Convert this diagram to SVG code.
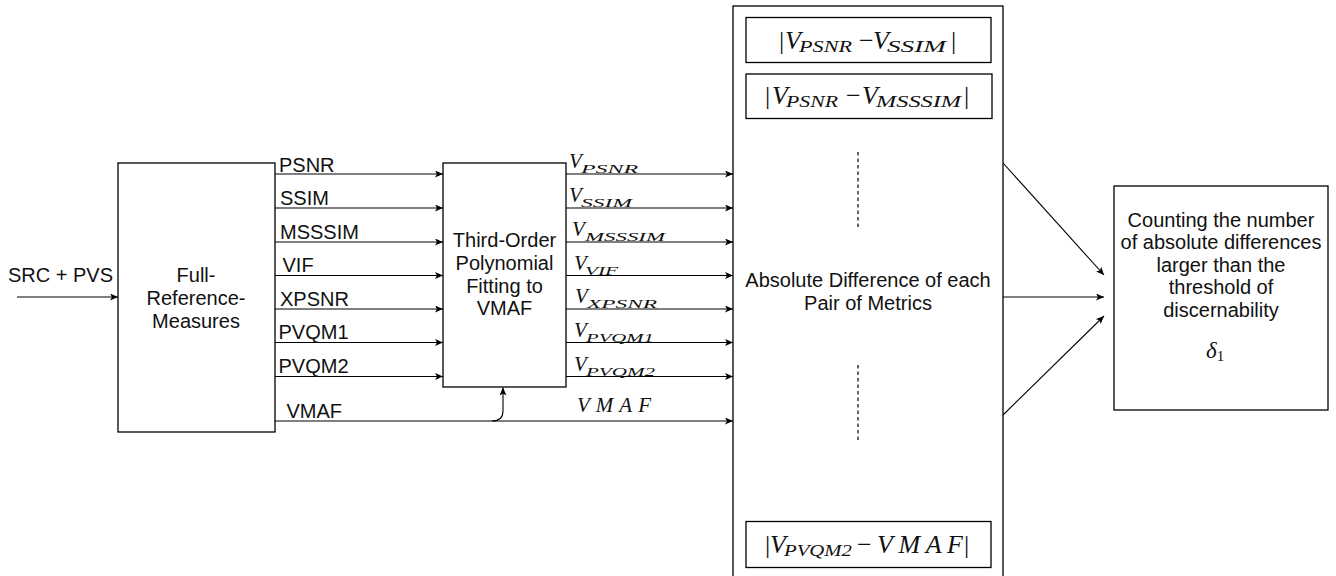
<svg xmlns="http://www.w3.org/2000/svg" width="1336" height="576" viewBox="0 0 1336 576">
<style>
.box{fill:#fff;stroke:#000;stroke-width:1.3}
.ln{fill:none;stroke:#000;stroke-width:1.1}
.dash{fill:none;stroke:#000;stroke-width:1.2;stroke-dasharray:3.5 3}
.t{font-family:"Liberation Sans",Arial,Helvetica,sans-serif;font-size:20px;fill:#111}
.c{text-anchor:middle}
.m{font-family:"Liberation Serif","Times New Roman",serif;font-style:italic;font-size:21px;fill:#111}
.s{font-size:13.5px}
.M{font-family:"Liberation Serif","Times New Roman",serif;font-style:italic;font-size:26px;fill:#111}
.S{font-size:17px}
.u{font-style:normal}
</style>
<defs>
<marker id="ah" viewBox="0 0 8 7" refX="8" refY="3.5" markerWidth="8" markerHeight="7" markerUnits="userSpaceOnUse" orient="auto">
<path d="M0,0 L8,3.5 L0,7 L2,3.5 z" fill="#000"/>
</marker>
</defs>

<g id="connectors">
<path class="ln" d="M17,297 H118" marker-end="url(#ah)"/>
<path class="ln" d="M275,174 H443" marker-end="url(#ah)"/>
<path class="ln" d="M275,208 H443" marker-end="url(#ah)"/>
<path class="ln" d="M275,242 H443" marker-end="url(#ah)"/>
<path class="ln" d="M275,275.5 H443" marker-end="url(#ah)"/>
<path class="ln" d="M275,309 H443" marker-end="url(#ah)"/>
<path class="ln" d="M275,342.5 H443" marker-end="url(#ah)"/>
<path class="ln" d="M275,376.5 H443" marker-end="url(#ah)"/>
<path class="ln" d="M275,421 H733" marker-end="url(#ah)"/>
<path class="ln" d="M492,421 Q503,421 503,411 V387.5" marker-end="url(#ah)"/>
<path class="ln" d="M566,174 H733" marker-end="url(#ah)"/>
<path class="ln" d="M566,208 H733" marker-end="url(#ah)"/>
<path class="ln" d="M566,242 H733" marker-end="url(#ah)"/>
<path class="ln" d="M566,275.5 H733" marker-end="url(#ah)"/>
<path class="ln" d="M566,309 H733" marker-end="url(#ah)"/>
<path class="ln" d="M566,342.5 H733" marker-end="url(#ah)"/>
<path class="ln" d="M566,376.5 H733" marker-end="url(#ah)"/>
<path class="ln" d="M1003,163 L1104,275" marker-end="url(#ah)"/>
<path class="ln" d="M1003,297 H1104" marker-end="url(#ah)"/>
<path class="ln" d="M1003,415 L1104,316" marker-end="url(#ah)"/>
</g>

<g id="labels">
<text class="t" x="8" y="282">SRC + PVS</text>
<text class="t" x="279" y="171.5">PSNR</text>
<text class="t" x="280" y="205">SSIM</text>
<text class="t" x="280" y="238.5">MSSSIM</text>
<text class="t" x="282.5" y="272">VIF</text>
<text class="t" x="280" y="305.5">XPSNR</text>
<text class="t" x="278.5" y="339">PVQM1</text>
<text class="t" x="278.5" y="372.5">PVQM2</text>
<text class="t" x="286.5" y="417.5">VMAF</text>

<text class="m" x="569" y="168">V<tspan class="s" x="581" y="173" textLength="57" lengthAdjust="spacingAndGlyphs">PSNR</tspan></text>
<text class="m" x="569" y="202">V<tspan class="s" x="581" y="207" textLength="51" lengthAdjust="spacingAndGlyphs">SSIM</tspan></text>
<text class="m" x="572" y="236">V<tspan class="s" x="585" y="241" textLength="80" lengthAdjust="spacingAndGlyphs">MSSSIM</tspan></text>
<text class="m" x="574" y="269.5">V<tspan class="s" x="585" y="274.5" textLength="33" lengthAdjust="spacingAndGlyphs">VIF</tspan></text>
<text class="m" x="575" y="303">V<tspan class="s" x="587" y="308" textLength="70" lengthAdjust="spacingAndGlyphs">XPSNR</tspan></text>
<text class="m" x="574" y="336.5">V<tspan class="s" x="586" y="341.5" textLength="68" lengthAdjust="spacingAndGlyphs">PVQM1</tspan></text>
<text class="m" x="574" y="370.5">V<tspan class="s" x="586" y="375.5" textLength="69" lengthAdjust="spacingAndGlyphs">PVQM2</tspan></text>
<text class="m" x="577" y="412" textLength="74" lengthAdjust="spacing">VMAF</text>
</g>

<g id="full-reference-measures">
<rect class="box" x="118" y="163" width="157" height="269"/>
<text class="t c" x="196" y="281.5">Full-</text>
<text class="t c" x="196" y="305">Reference-</text>
<text class="t c" x="196" y="328">Measures</text>
</g>

<g id="polynomial-fitting">
<rect class="box" x="443" y="163" width="123" height="224"/>
<text class="t c" x="504.5" y="246.5">Third-Order</text>
<text class="t c" x="504.5" y="269.5">Polynomial</text>
<text class="t c" x="504.5" y="292.5">Fitting to</text>
<text class="t c" x="504.5" y="315">VMAF</text>
</g>

<g id="absolute-difference">
<rect class="box" x="733" y="6" width="270" height="580"/>
<text class="t c" x="868" y="286.5">Absolute Difference of each</text>
<text class="t c" x="868" y="310">Pair of Metrics</text>
<path class="dash" d="M858,152 V230"/>
<path class="dash" d="M858,365 V442"/>
<g id="diff-psnr-ssim">
<rect class="box" x="746" y="17.5" width="245" height="45"/>
<text class="M" y="49"><tspan class="u" x="779">|</tspan><tspan x="785">V</tspan><tspan class="S" x="799" y="52" textLength="53" lengthAdjust="spacingAndGlyphs">PSNR</tspan><tspan class="u" x="859" y="49">−</tspan><tspan x="873">V</tspan><tspan class="S" x="887" y="52" textLength="59" lengthAdjust="spacingAndGlyphs">SSIM</tspan><tspan class="u" x="951" y="49">|</tspan></text>
</g>
<g id="diff-psnr-msssim">
<rect class="box" x="746" y="74" width="246" height="44.5"/>
<text class="M" y="104"><tspan class="u" x="765">|</tspan><tspan x="772">V</tspan><tspan class="S" x="786" y="107" textLength="52" lengthAdjust="spacingAndGlyphs">PSNR</tspan><tspan class="u" x="846" y="104">−</tspan><tspan x="862">V</tspan><tspan class="S" x="876" y="107" textLength="85" lengthAdjust="spacingAndGlyphs">MSSSIM</tspan><tspan class="u" x="964" y="104">|</tspan></text>
</g>
<g id="diff-pvqm2-vmaf">
<rect class="box" x="746" y="521.5" width="245" height="46"/>
<text class="M" y="553"><tspan class="u" x="765">|</tspan><tspan x="770">V</tspan><tspan class="S" x="784" y="556" textLength="68" lengthAdjust="spacingAndGlyphs">PVQM2</tspan><tspan class="u" x="857" y="553">−</tspan><tspan x="877" textLength="86" lengthAdjust="spacing">VMAF</tspan><tspan class="u" x="964">|</tspan></text>
</g>
</g>

<g id="counting">
<rect class="box" x="1114" y="186" width="214" height="224"/>
<text class="t c" x="1221" y="226.5">Counting the number</text>
<text class="t c" x="1221" y="249">of absolute differences</text>
<text class="t c" x="1221" y="271.5">larger than the</text>
<text class="t c" x="1221" y="294">threshold of</text>
<text class="t c" x="1221" y="316.5">discernability</text>
<text class="m" x="1206" y="358" style="font-size:23px">δ<tspan class="u" style="font-size:15px" y="361">1</tspan></text>
</g>
</svg>
